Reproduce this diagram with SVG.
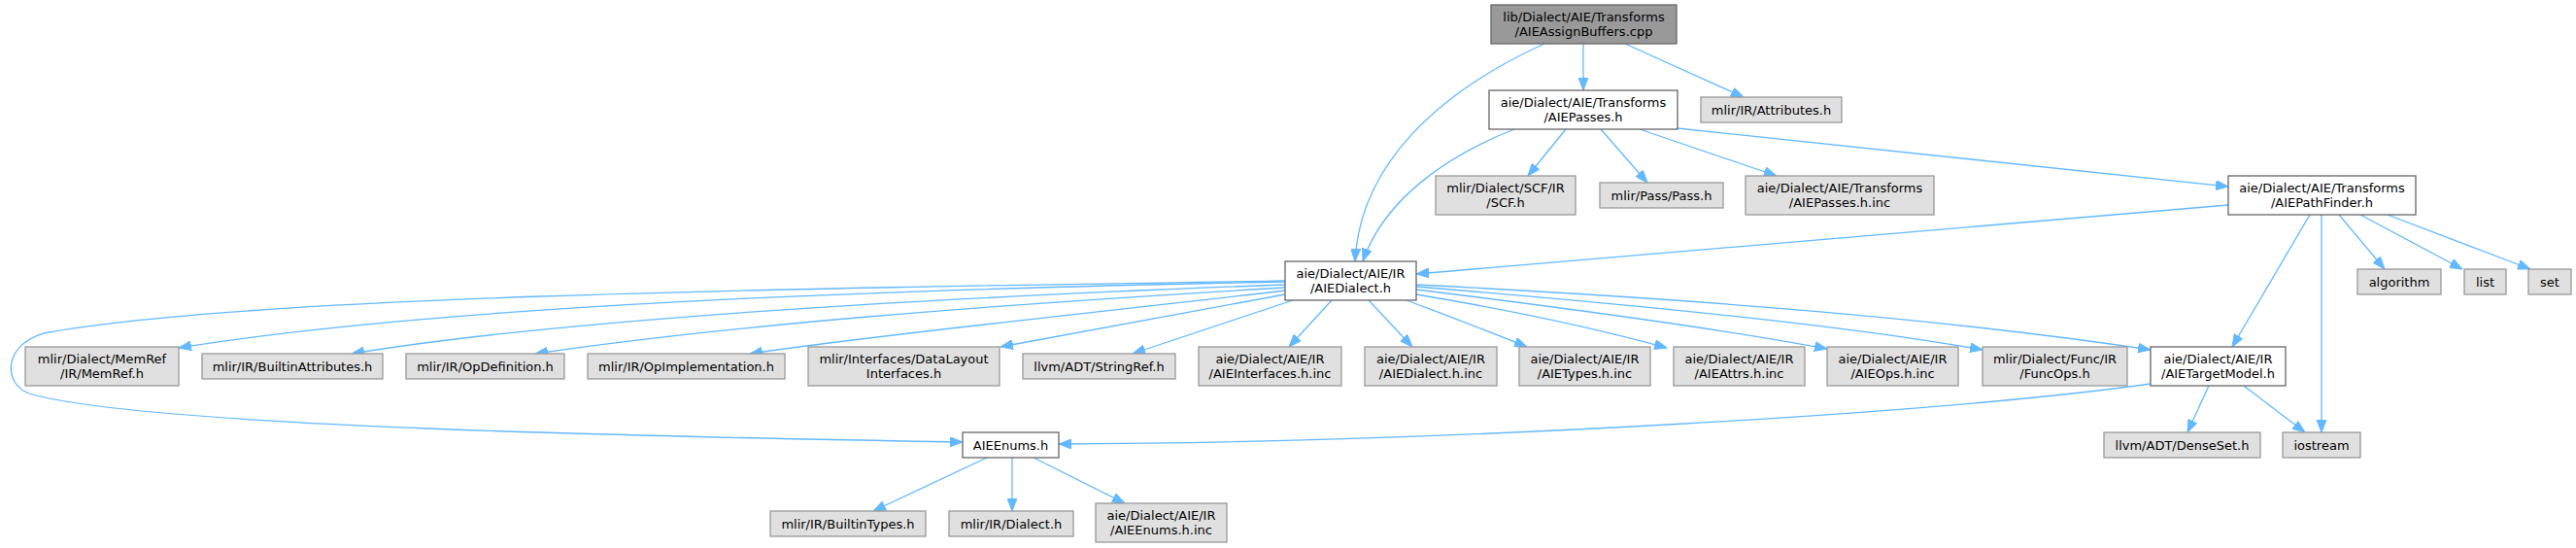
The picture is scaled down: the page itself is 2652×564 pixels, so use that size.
<svg xmlns="http://www.w3.org/2000/svg" width="2652" height="564" viewBox="0 0 2652 564">
<defs>
<marker id="arr" viewBox="0 0 13 10" refX="13" refY="5" markerWidth="13" markerHeight="10" markerUnits="userSpaceOnUse" orient="auto">
<path d="M0,0 L13,5 L0,10 Z" fill="#63b8ff" stroke="#63b8ff" stroke-width="1"/>
</marker>
</defs>
<style>
.e{fill:none;stroke:#63b8ff;stroke-width:1.3;marker-end:url(#arr)}
.g rect{fill:#e0e0e0;stroke:#999999;stroke-width:1.3}
.w rect{fill:#ffffff;stroke:#666666;stroke-width:1.3}
.r rect{fill:#999999;stroke:#666666;stroke-width:1.3}
text{font-family:"DejaVu Sans","Liberation Sans",sans-serif;font-size:13px;fill:#000;text-anchor:middle}
</style>
<rect x="0" y="0" width="2652" height="564" fill="#ffffff"/>
<g id="edges">
<path class="e" d="M1630,45 L1630,93"/>
<path class="e" d="M1673,45 L1795,100"/>
<path class="e" d="M1590,45 C1480,95 1400,170 1395,269"/>
<path class="e" d="M1559,133 C1490,160 1425,205 1403,269"/>
<path class="e" d="M1612,133 L1573,181"/>
<path class="e" d="M1648,133 L1696,188"/>
<path class="e" d="M1688,133 L1829,181"/>
<path class="e" d="M1727,132 L2294,192"/>
<path class="e" d="M2294,211 L1458,282"/>
<path class="e" d="M2378,221 L2298,357"/>
<path class="e" d="M2390,221 L2390,445"/>
<path class="e" d="M2408,221 L2455,277"/>
<path class="e" d="M2430,221 L2535,277"/>
<path class="e" d="M2458,221 L2605,277"/>
<path class="e" d="M1323,290 C900,298 450,315 184,358"/>
<path class="e" d="M1323,293 C1000,305 600,325 362,364"/>
<path class="e" d="M1323,296 C1000,315 750,335 551,364"/>
<path class="e" d="M1323,299 C1100,325 900,345 772,364"/>
<path class="e" d="M1323,303 L1030,357"/>
<path class="e" d="M1331,309 L1166,364"/>
<path class="e" d="M1371,309 L1327,357"/>
<path class="e" d="M1409,309 L1454,357"/>
<path class="e" d="M1448,309 C1490,325 1530,340 1572,357"/>
<path class="e" d="M1458,303 C1560,320 1650,340 1716,358"/>
<path class="e" d="M1458,298 C1620,318 1780,340 1881,359"/>
<path class="e" d="M1458,295 C1700,315 1900,335 2041,360"/>
<path class="e" d="M1458,293 C1750,308 2000,328 2214,360"/>
<path class="e" d="M1323,289 C800,297 250,305 45,343 C3,355 3,395 30,405 C150,440 700,450 991,455"/>
<path class="e" d="M2214,395 C2000,425 1500,455 1090,457"/>
<path class="e" d="M2274,397 L2252,445"/>
<path class="e" d="M2310,397 L2373,445"/>
<path class="e" d="M1016,471 L899,526"/>
<path class="e" d="M1042,471 L1042,526"/>
<path class="e" d="M1064,471 L1158,518"/>
</g>
<g id="n_top" class="r"><rect x="1535" y="5" width="191" height="40"/><text x="1630.5" y="22">lib/Dialect/AIE/Transforms</text><text x="1630.5" y="36.5">/AIEAssignBuffers.cpp</text></g>
<g id="n_passes" class="w"><rect x="1533" y="93" width="194" height="40"/><text x="1630" y="110">aie/Dialect/AIE/Transforms</text><text x="1630" y="124.5">/AIEPasses.h</text></g>
<g id="n_attributes" class="g"><rect x="1751" y="100" width="145" height="26"/><text x="1823.5" y="117.5">mlir/IR/Attributes.h</text></g>
<g id="n_scf" class="g"><rect x="1478" y="181" width="144" height="40"/><text x="1550" y="198">mlir/Dialect/SCF/IR</text><text x="1550" y="212.5">/SCF.h</text></g>
<g id="n_pass" class="g"><rect x="1647" y="188" width="127" height="26"/><text x="1710.5" y="205.5">mlir/Pass/Pass.h</text></g>
<g id="n_passesinc" class="g"><rect x="1797" y="181" width="194" height="40"/><text x="1894" y="198">aie/Dialect/AIE/Transforms</text><text x="1894" y="212.5">/AIEPasses.h.inc</text></g>
<g id="n_pathfinder" class="w"><rect x="2294" y="181" width="193" height="40"/><text x="2390.5" y="198">aie/Dialect/AIE/Transforms</text><text x="2390.5" y="212.5">/AIEPathFinder.h</text></g>
<g id="n_aiedialect" class="w"><rect x="1323" y="269" width="135" height="40"/><text x="1390.5" y="286">aie/Dialect/AIE/IR</text><text x="1390.5" y="300.5">/AIEDialect.h</text></g>
<g id="n_algorithm" class="g"><rect x="2427" y="277" width="86" height="26"/><text x="2470" y="294.5">algorithm</text></g>
<g id="n_list" class="g"><rect x="2537" y="277" width="43" height="26"/><text x="2558.5" y="294.5">list</text></g>
<g id="n_set" class="g"><rect x="2603" y="277" width="44" height="26"/><text x="2625" y="294.5">set</text></g>
<g id="n_memref" class="g"><rect x="26" y="357" width="158" height="40"/><text x="105" y="374">mlir/Dialect/MemRef</text><text x="105" y="388.5">/IR/MemRef.h</text></g>
<g id="n_builtinattr" class="g"><rect x="208" y="364" width="186" height="26"/><text x="301" y="381.5">mlir/IR/BuiltinAttributes.h</text></g>
<g id="n_opdef" class="g"><rect x="418" y="364" width="163" height="26"/><text x="499.5" y="381.5">mlir/IR/OpDefinition.h</text></g>
<g id="n_opimpl" class="g"><rect x="605" y="364" width="203" height="26"/><text x="706.5" y="381.5">mlir/IR/OpImplementation.h</text></g>
<g id="n_datalayout" class="g"><rect x="832" y="357" width="197" height="40"/><text x="930.5" y="374">mlir/Interfaces/DataLayout</text><text x="930.5" y="388.5">Interfaces.h</text></g>
<g id="n_stringref" class="g"><rect x="1053" y="364" width="157" height="26"/><text x="1131.5" y="381.5">llvm/ADT/StringRef.h</text></g>
<g id="n_interfacesinc" class="g"><rect x="1234" y="357" width="147" height="40"/><text x="1307.5" y="374">aie/Dialect/AIE/IR</text><text x="1307.5" y="388.5">/AIEInterfaces.h.inc</text></g>
<g id="n_dialectinc" class="g"><rect x="1405" y="357" width="136" height="40"/><text x="1473" y="374">aie/Dialect/AIE/IR</text><text x="1473" y="388.5">/AIEDialect.h.inc</text></g>
<g id="n_typesinc" class="g"><rect x="1564" y="357" width="135" height="40"/><text x="1631.5" y="374">aie/Dialect/AIE/IR</text><text x="1631.5" y="388.5">/AIETypes.h.inc</text></g>
<g id="n_attrsinc" class="g"><rect x="1723" y="357" width="135" height="40"/><text x="1790.5" y="374">aie/Dialect/AIE/IR</text><text x="1790.5" y="388.5">/AIEAttrs.h.inc</text></g>
<g id="n_opsinc" class="g"><rect x="1881" y="357" width="135" height="40"/><text x="1948.5" y="374">aie/Dialect/AIE/IR</text><text x="1948.5" y="388.5">/AIEOps.h.inc</text></g>
<g id="n_funcops" class="g"><rect x="2041" y="357" width="149" height="40"/><text x="2115.5" y="374">mlir/Dialect/Func/IR</text><text x="2115.5" y="388.5">/FuncOps.h</text></g>
<g id="n_targetmodel" class="w"><rect x="2214" y="357" width="139" height="40"/><text x="2283.5" y="374">aie/Dialect/AIE/IR</text><text x="2283.5" y="388.5">/AIETargetModel.h</text></g>
<g id="n_enums" class="w"><rect x="991" y="445" width="99" height="26"/><text x="1040.5" y="462.5">AIEEnums.h</text></g>
<g id="n_denseset" class="g"><rect x="2166" y="445" width="161" height="26"/><text x="2246.5" y="462.5">llvm/ADT/DenseSet.h</text></g>
<g id="n_iostream" class="g"><rect x="2350" y="445" width="80" height="26"/><text x="2390" y="462.5">iostream</text></g>
<g id="n_builtintypes" class="g"><rect x="793" y="526" width="160" height="26"/><text x="873" y="543.5">mlir/IR/BuiltinTypes.h</text></g>
<g id="n_irdialect" class="g"><rect x="977" y="526" width="128" height="26"/><text x="1041" y="543.5">mlir/IR/Dialect.h</text></g>
<g id="n_enumsinc" class="g"><rect x="1128" y="518" width="135" height="40"/><text x="1195.5" y="535">aie/Dialect/AIE/IR</text><text x="1195.5" y="549.5">/AIEEnums.h.inc</text></g>
</svg>
